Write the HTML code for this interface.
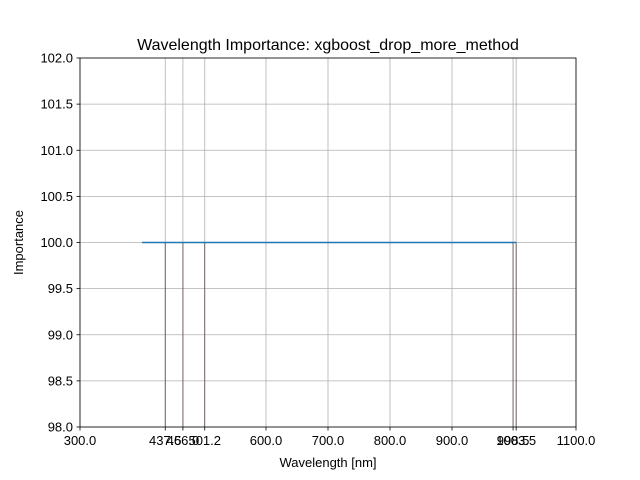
<!DOCTYPE html>
<html><head><meta charset="utf-8"><style>body{margin:0;background:#fff}svg{display:block;font-family:"Liberation Sans",sans-serif}</style></head><body>
<svg id="c" width="640" height="480"></svg>
<script>
const xTicks=[300,437.5,466.0,501.2,600,700,800,900,998.5,1003.5,1100];
const xTickLabels=["300.0","437.5","466.0","501.2","600.0","700.0","800.0","900.0","998.5","1003.5","1100.0"];
const yTicks=[98,98.5,99,99.5,100,100.5,101,101.5,102];
const lineX=[400,1003.5];
const lineY=[100,100];
const vlineX=[437.5,466.0,501.2,998.5,1003.5];
const vlineY=100;
const L=80,R=576,T=58,B=427;
const sx=v=>L+(v-300)/800*(R-L);
const sy=v=>B-(v-98)/4*(B-T);
const svg=document.getElementById('c');
const NS='http://www.w3.org/2000/svg';
function mk(t,a,txt){const e=document.createElementNS(NS,t);for(const k in a)e.setAttribute(k,a[k]);if(txt!==undefined)e.textContent=txt;svg.appendChild(e);return e;}
xTicks.forEach((v,i)=>{const x=sx(v);
let g=mk('line',{x1:x,x2:x,y1:T,y2:B,stroke:'#b0b0b0','stroke-width':0.8});


let t=mk('line',{x1:x,x2:x,y1:B,y2:B+3.5,stroke:'#000','stroke-width':0.8});


let l=mk('text',{x:x,y:B+18,'font-size':13,'text-anchor':'middle'},xTickLabels[i]);

});
yTicks.forEach(v=>{const y=sy(v);
let g=mk('line',{x1:L,x2:R,y1:y,y2:y,stroke:'#b0b0b0','stroke-width':0.8});


let t=mk('line',{x1:L-3.5,x2:L,y1:y,y2:y,stroke:'#000','stroke-width':0.8});


let l=mk('text',{x:L-7,y:y+4.5,'font-size':13,'text-anchor':'end'},v.toFixed(1));

});
vlineX.forEach(v=>{let e=mk('line',{x1:sx(v),x2:sx(v),y1:sy(vlineY),y2:sy(98),stroke:'#5a4646','stroke-width':0.8});

});
let p=mk('polyline',{points:lineX.map((v,i)=>sx(v)+','+sy(lineY[i])).join(' '),fill:'none',stroke:'#1f77b4','stroke-width':1.5});


let f=mk('rect',{x:L,y:T,width:R-L,height:B-T,fill:'none',stroke:'#000','stroke-width':0.8});


let ti=mk('text',{x:(L+R)/2,y:50,'font-size':16,'text-anchor':'middle'},'Wavelength Importance: xgboost_drop_more_method');


let xl=mk('text',{x:(L+R)/2,y:467,'font-size':13,'text-anchor':'middle'},'Wavelength [nm]');


let yl=mk('text',{x:23,y:(T+B)/2,'font-size':13,'text-anchor':'middle',transform:'rotate(-90 23 '+((T+B)/2)+')'},'Importance');


</script>
</body></html>
